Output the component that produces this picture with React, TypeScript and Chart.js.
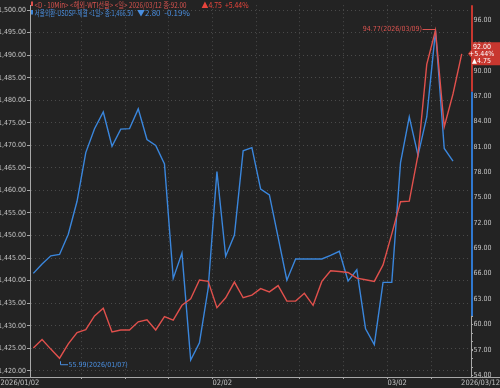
import { useEffect, useRef } from 'react';
import { Chart, registerables } from 'chart.js';

Chart.register(...registerables);

// ---------- data ----------
const dates = [
  '2026/01/02', '2026/01/05', '2026/01/06', '2026/01/07', '2026/01/08', '2026/01/09',
  '2026/01/12', '2026/01/13', '2026/01/14', '2026/01/15', '2026/01/16',
  '2026/01/19', '2026/01/20', '2026/01/21', '2026/01/22', '2026/01/23',
  '2026/01/26', '2026/01/27', '2026/01/28', '2026/01/29', '2026/01/30',
  '2026/02/02', '2026/02/03', '2026/02/04', '2026/02/05', '2026/02/06',
  '2026/02/09', '2026/02/10', '2026/02/11', '2026/02/12', '2026/02/13',
  '2026/02/16', '2026/02/17', '2026/02/18', '2026/02/19', '2026/02/20',
  '2026/02/23', '2026/02/24', '2026/02/25', '2026/02/26', '2026/02/27',
  '2026/03/02', '2026/03/03', '2026/03/04', '2026/03/05', '2026/03/06',
  '2026/03/09', '2026/03/10', '2026/03/11', '2026/03/12',
];

// WTI futures (right axis)
const wtiClose = [
  57.19, 58.2, 57.07, 55.99, 57.7, 59.02, 59.37, 61.0, 61.9, 59.1,
  59.33, 59.33, 60.3, 60.53, 59.33, 60.92, 60.5, 62.25, 63.02, 65.24,
  65.08, 61.97, 63.14, 65.0, 63.14, 63.45, 64.23, 63.84, 64.58, 62.75,
  62.75, 63.68, 62.25, 65.08, 66.33, 66.25, 66.13, 65.47, 65.28, 65.08,
  67.03, 70.7, 74.5, 74.57, 80.05, 90.75, 94.77, 83.37, 87.25, 92.0,
];

// USD/KRW spot (left axis)
const usdKrwClose = [
  1441.6, 1443.7, 1445.5, 1445.8, 1450.3, 1457.6, 1468.4, 1473.7, 1477.4, 1469.8,
  1473.6, 1473.7, 1478.1, 1471.3, 1470.0, 1465.9, 1440.5, 1446.1, 1422.4, 1426.2,
  1438.3, 1464.2, 1445.4, 1450.1, 1468.8, 1469.5, 1460.3, 1459.0, 1449.6, 1440.1,
  1444.8, 1444.8, 1444.8, 1444.8, 1445.6, 1446.5, 1439.9, 1442.4, 1429.3, 1425.8,
  1439.6, 1439.6, 1466.2, 1476.3, 1467.8, 1476.3, 1495.4, 1469.3, 1466.5,
];

const leftTicks = [1420, 1425, 1430, 1435, 1440, 1445, 1450, 1455, 1460, 1465, 1470, 1475, 1480, 1485, 1490, 1495, 1500];
const rightTicks = [54, 57, 60, 63, 66, 69, 72, 75, 78, 81, 84, 87, 90, 93, 96];
const weekStartIdx = [6, 11, 16, 21, 26, 31, 36, 41, 46];

const wtiTitle = '<D - 10Min> <해외-WTI선물> <일>';
const usdTitle = '서울외환-USDSP-체결 <1일>';

// ---------- style ----------
const BG = '#232323';
const GRID = '#4a4a4a';
const AXIS = '#a8a8a8';
const TICK_TXT = '#c4c4c4';
const RED = '#e0504c';
const BLUE = '#3a86dc';
const RED_TXT = '#d9534f';
const BLUE_TXT = '#4a8fe0';
const TAG_RED = '#c8372f';
const NARROW = "'Liberation Sans Narrow', 'DejaVu Sans Condensed', sans-serif";
const CJK = "'Noto Sans CJK KR', 'Noto Sans', sans-serif";

const fmt2 = (v: number) =>
  v.toLocaleString('en-US', { minimumFractionDigits: 2, maximumFractionDigits: 2 });

const overlay = {
  id: 'overlay',
  beforeDraw(chart: any) {
    const ctx = chart.ctx;
    ctx.save();
    ctx.fillStyle = BG;
    ctx.fillRect(0, 0, chart.width, chart.height);
    ctx.restore();
  },
  afterDraw(chart: any) {
    const ctx = chart.ctx as CanvasRenderingContext2D;
    const { right, top, bottom } = chart.chartArea;
    const W = chart.width;
    const xs = chart.scales.x;
    const yR = chart.scales.yR;
    ctx.save();

    // bottom axis line spanning full width
    ctx.strokeStyle = AXIS;
    ctx.lineWidth = 1;
    ctx.beginPath();
    ctx.moveTo(0, bottom + 0.5);
    ctx.lineTo(W, bottom + 0.5);
    ctx.stroke();

    // right axis minor ticks
    ctx.strokeStyle = AXIS;
    for (let v = 54; v <= 97; v += 1) {
      const y = Math.round(yR.getPixelForValue(v)) + 0.5;
      if (y > bottom) continue;
      ctx.beginPath();
      ctx.moveTo(right, y);
      ctx.lineTo(right + 2, y);
      ctx.stroke();
    }

    // right axis coloured bands
    const yRedEnd = yR.getPixelForValue(87.5);
    const yBlueEnd = yR.getPixelForValue(61);
    ctx.lineWidth = 2;
    ctx.strokeStyle = TAG_RED;
    ctx.beginPath(); ctx.moveTo(right + 1, top); ctx.lineTo(right + 1, yRedEnd); ctx.stroke();
    ctx.strokeStyle = '#2f78d0';
    ctx.beginPath(); ctx.moveTo(right + 1, yRedEnd); ctx.lineTo(right + 1, yBlueEnd); ctx.stroke();
    ctx.lineWidth = 1;
    ctx.strokeStyle = AXIS;
    ctx.beginPath(); ctx.moveTo(right + 0.5, yBlueEnd); ctx.lineTo(right + 0.5, bottom); ctx.stroke();

    // x axis end labels
    ctx.fillStyle = TICK_TXT;
    ctx.font = `7.5px ${NARROW}`;
    ctx.textBaseline = 'middle';
    ctx.textAlign = 'left';
    ctx.fillText(dates[0], 0.5, bottom + 6);
    ctx.textAlign = 'right';
    ctx.fillText(dates[dates.length - 1], W, bottom + 6);

    // min / max annotations for WTI
    const minV = Math.min(...wtiClose);
    const maxV = Math.max(...wtiClose);
    const iMin = wtiClose.indexOf(minV);
    const iMax = wtiClose.indexOf(maxV);
    ctx.font = `7px ${NARROW}`;
    ctx.lineWidth = 1;
    {
      const px = Math.round(xs.getPixelForValue(iMin));
      const py = yR.getPixelForValue(minV);
      ctx.strokeStyle = BLUE_TXT;
      ctx.beginPath();
      ctx.moveTo(px + 0.5, py + 3);
      ctx.lineTo(px + 0.5, py + 6.5);
      ctx.lineTo(px + 8, py + 6.5);
      ctx.stroke();
      ctx.fillStyle = BLUE_TXT;
      ctx.textAlign = 'left';
      ctx.fillText(`${minV.toFixed(2)}(${dates[iMin]})`, px + 8.5, py + 6.5);
    }
    {
      const px = xs.getPixelForValue(iMax);
      const py = Math.round(yR.getPixelForValue(maxV)) - 0.5;
      ctx.strokeStyle = RED_TXT;
      ctx.beginPath();
      ctx.moveTo(px - 13, py);
      ctx.lineTo(px, py);
      ctx.stroke();
      ctx.fillStyle = RED_TXT;
      ctx.textAlign = 'right';
      ctx.fillText(`${maxV.toFixed(2)}(${dates[iMax]})`, px - 13.5, py);
    }

    // header legend
    const n = wtiClose.length;
    const wLast = wtiClose[n - 1];
    const wChg = wLast - wtiClose[n - 2];
    const wPct = (wChg / wtiClose[n - 2]) * 100;
    const m = usdKrwClose.length;
    const uLast = usdKrwClose[m - 1];
    const uChg = uLast - usdKrwClose[m - 2];
    const uPct = (uChg / usdKrwClose[m - 2]) * 100;
    const lastDate = dates[n - 1];

    ctx.fillStyle = RED;
    ctx.fillRect(31, 1.5, 2, 4.5);
    ctx.fillStyle = BLUE;
    ctx.fillRect(31, 10, 2, 4.5);

    ctx.font = `8px ${CJK}`;
    ctx.textAlign = 'left';
    ctx.textBaseline = 'middle';
    ctx.fillStyle = RED_TXT;
    ctx.fillText(`${wtiTitle} ${lastDate} 종:${fmt2(wLast)}`, 34.5, 4.5, 152);
    ctx.fillStyle = '#e8453c';
    ctx.fillText(`${wChg >= 0 ? '▲' : '▼'}${Math.abs(wChg).toFixed(2)}  ${wPct >= 0 ? '+' : '-'}${Math.abs(wPct).toFixed(2)}%`, 201.5, 4.5, 47);
    ctx.fillStyle = BLUE_TXT;
    ctx.fillText(`${usdTitle} 종:${fmt2(uLast)}`, 34.5, 12.5, 99);
    ctx.fillText(`${uChg >= 0 ? '▲' : '▼'}${Math.abs(uChg).toFixed(2)}  ${uPct >= 0 ? '+' : '-'}${Math.abs(uPct).toFixed(2)}%`, 137, 12.5, 54);

    // last price tag on right axis
    const ty = yR.getPixelForValue(wLast);
    ctx.fillStyle = TAG_RED;
    ctx.beginPath();
    ctx.moveTo(right - 3, ty);
    ctx.lineTo(right + 1, ty - 5);
    ctx.lineTo(right + 1, ty - 11.5);
    ctx.lineTo(W, ty - 11.5);
    ctx.lineTo(W, ty + 11.5);
    ctx.lineTo(right + 1, ty + 11.5);
    ctx.lineTo(right + 1, ty + 5);
    ctx.closePath();
    ctx.fill();
    ctx.fillStyle = '#ffffff';
    ctx.font = `7px ${NARROW}`;
    ctx.textAlign = 'center';
    ctx.fillText(fmt2(wLast), 482, ty - 7);
    ctx.fillText(`${wPct >= 0 ? '+' : '-'}${Math.abs(wPct).toFixed(2)}%`, 481.5, ty);
    ctx.fillText(`${wChg >= 0 ? '▲' : '▼'}${Math.abs(wChg).toFixed(2)}`, 481.5, ty + 7);

    ctx.restore();
  },
};

export default function App() {
  const ref = useRef<HTMLCanvasElement | null>(null);

  useEffect(() => {
    if (!ref.current) return;
    const chart = new Chart(ref.current, {
      type: 'line',
      data: {
        datasets: [
          {
            label: 'WTI',
            data: wtiClose.map((v, i) => ({ x: i, y: v })),
            yAxisID: 'yR',
            borderColor: RED,
            borderWidth: 1.4,
            pointRadius: 0,
            tension: 0,
          },
          {
            label: 'USD/KRW',
            data: usdKrwClose.map((v, i) => ({ x: i, y: v })),
            yAxisID: 'yL',
            borderColor: BLUE,
            borderWidth: 1.4,
            pointRadius: 0,
            tension: 0,
          },
        ],
      },
      options: {
        animation: false,
        responsive: false,
        maintainAspectRatio: false,
        layout: { padding: 0 },
        plugins: { legend: { display: false }, tooltip: { enabled: false } },
        scales: {
          x: {
            type: 'linear',
            min: -0.38,
            max: 50.06,
            afterBuildTicks: (ax: any) => {
              ax.ticks = weekStartIdx.map((i) => ({ value: i - 0.5 }));
            },
            afterFit: (ax: any) => {
              ax.height = 11;
            },
            grid: { color: GRID, lineWidth: 1, drawTicks: true, tickLength: 2, tickColor: AXIS },
            border: { display: false, dash: [1, 3] },
            ticks: {
              autoSkip: false,
              maxRotation: 0,
              align: 'start',
              padding: 0,
              color: TICK_TXT,
              font: { family: NARROW, size: 7.5 },
              callback: (_v: any, idx: number) => {
                const i = weekStartIdx[idx];
                const cur = dates[i].slice(5, 7);
                const prev = dates[i - 1].slice(5, 7);
                return cur !== prev ? dates[i].slice(5) : '';
              },
            },
          },
          yL: {
            type: 'linear',
            position: 'left',
            min: 1418.62,
            max: 1501.09,
            afterBuildTicks: (ax: any) => {
              ax.ticks = leftTicks.map((v) => ({ value: v }));
            },
            afterFit: (ax: any) => {
              ax.width = 30;
            },
            grid: { color: GRID, lineWidth: 1, drawTicks: true, tickLength: 3, tickColor: AXIS },
            border: { display: true, color: AXIS, width: 1, dash: [1, 3] },
            ticks: {
              padding: 1,
              color: TICK_TXT,
              font: { family: NARROW, size: 7 },
              callback: (v: any) => fmt2(Number(v)),
            },
          },
          yR: {
            type: 'linear',
            position: 'right',
            min: 53.77,
            max: 97.75,
            afterBuildTicks: (ax: any) => {
              ax.ticks = rightTicks.map((v) => ({ value: v }));
            },
            afterFit: (ax: any) => {
              ax.width = 29;
            },
            grid: { drawOnChartArea: false, drawTicks: true, tickLength: 2, tickColor: AXIS },
            border: { display: false },
            ticks: {
              padding: 0.5,
              color: TICK_TXT,
              font: { family: NARROW, size: 7 },
              callback: (v: any) => fmt2(Number(v)),
            },
          },
        },
      },
      plugins: [overlay],
    } as any);
    return () => chart.destroy();
  }, []);

  return (
    <div style={{ position: 'absolute', left: 0, top: 0, width: 500, height: 388, background: BG }}>
      <canvas ref={ref} width={500} height={388} style={{ width: 500, height: 388, display: 'block' }} />
    </div>
  );
}
